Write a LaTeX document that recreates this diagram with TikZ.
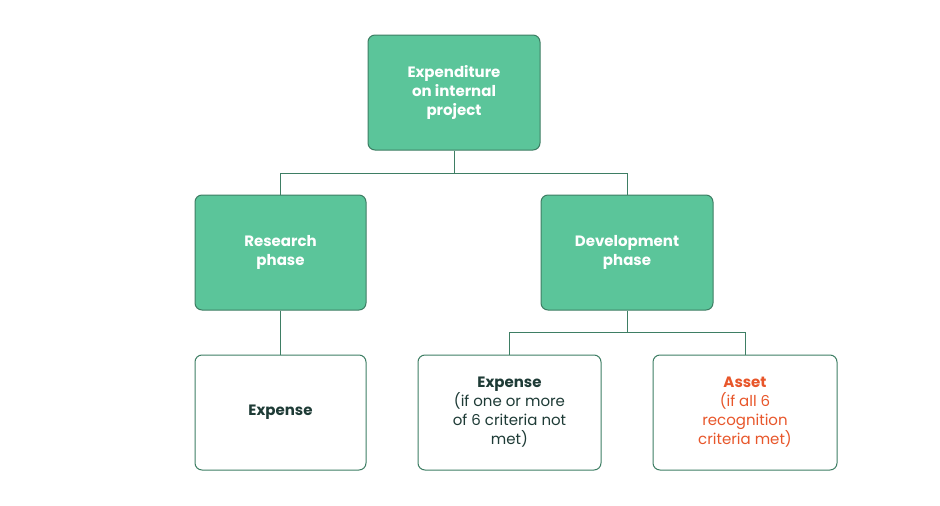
\documentclass[tikz,border=0pt]{standalone}
\usepackage{fontspec}
\setmainfont{Poppins}
\definecolor{gfill}{HTML}{5BC59A}
\definecolor{gline}{HTML}{3E7E64}
\definecolor{dtext}{HTML}{1E3B36}
\definecolor{otext}{HTML}{E8562A}
\tikzset{
  gbox/.style={draw=gline,line width=1pt,fill=gfill,rounded corners=7pt,minimum width=#1,minimum height=115pt,align=center,text=white,font=\fontsize{15}{19}\selectfont\bfseries},
  wbox/.style={draw=gline,line width=1pt,fill=white,rounded corners=7pt,minimum width=#1,minimum height=115pt,align=center,text=dtext,font=\fontsize{15}{19}\selectfont},
  conn/.style={draw=gline,line width=1pt}
}
\begin{document}
\begin{tikzpicture}[x=1pt,y=-1pt]
\useasboundingbox[fill=white] (0,0) rectangle (940,506);
\node[gbox=172pt] (top) at (454,92.5) {Expenditure\\on internal\\project};
\node[gbox=171pt] (res) at (280.5,252.5) {Research\\phase};
\node[gbox=172pt] (dev) at (627,252.5) {Development\\phase};
\node[wbox=171pt] (e1) at (280.5,412.5) {\textbf{Expense}};
\node[wbox=183pt] (e2) at (509.5,412.5) {\textbf{Expense}\\(if one or more\\of 6 criteria not\\met)};
\node[wbox=184pt,text=otext] (as) at (745,412.5) {\textbf{Asset}\\(if all 6\\recognition\\criteria met)};
\coordinate (j1) at (454,173);
\coordinate (j2) at (627,332);
\draw[conn] (top.south) -- (j1) -| (res.north);
\draw[conn] (j1) -| (dev.north);
\draw[conn] (res.south) -- (e1.north);
\draw[conn] (dev.south) -- (j2) -| (e2.north);
\draw[conn] (j2) -| (as.north);
\end{tikzpicture}
\end{document}
